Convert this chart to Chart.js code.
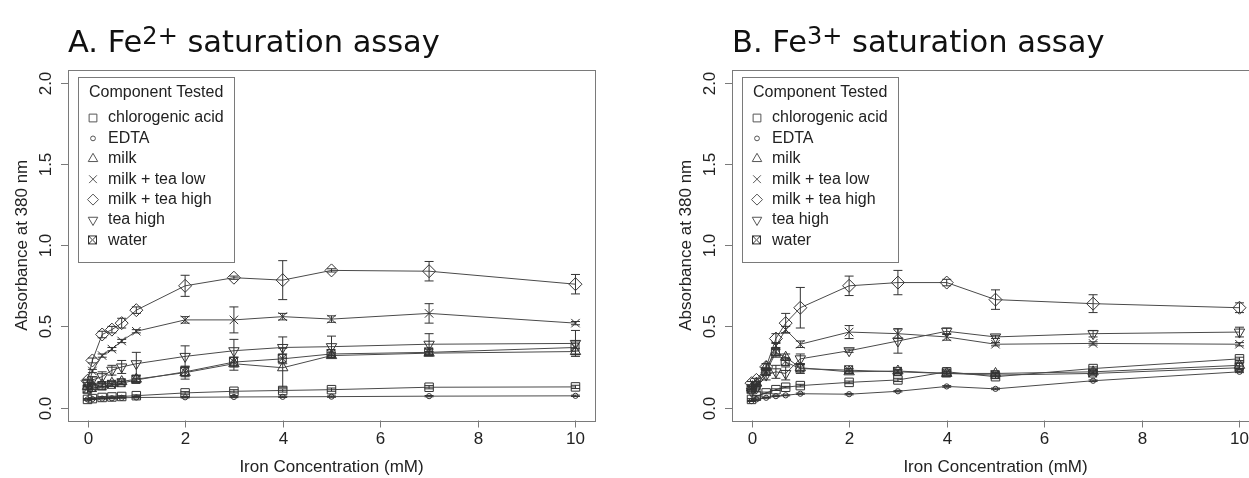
<!DOCTYPE html>
<html>
<head>
<meta charset="utf-8">
<title>Iron saturation assays</title>
<script src="https://cdn.jsdelivr.net/npm/chart.js@4.4.0/dist/chart.umd.min.js"></script>
<style>
  html, body { margin: 0; padding: 0; background: #fff; overflow: hidden; }
  #wrap { position: relative; width: 1249px; height: 478px; overflow: hidden; }
  canvas { position: absolute; top: 0; }
  #fe2 { left: 0; }
  #fe3 { left: 664px; }
</style>
</head>
<body>
<div id="wrap">
  <canvas id="fe2" width="620" height="478"></canvas>
  <canvas id="fe3" width="620" height="478"></canvas>
</div>
<script>
// iron added to each well (mM)
const concentrations = [0, 0.1, 0.3, 0.5, 0.7, 1, 2, 3, 4, 5, 7, 10];
const components = ["chlorogenic acid", "EDTA", "milk", "milk + tea low", "milk + tea high", "tea high", "water"];
const xTicks = [0, 2, 4, 6, 8, 10];
const yTicks = [0, 0.5, 1, 1.5, 2];
const yTickLabels = ["0.0", "0.5", "1.0", "1.5", "2.0"];

// Fe2+ mean absorbance
const fe2Chlorogenic = [0.05, 0.055, 0.062, 0.065, 0.068, 0.073, 0.09, 0.10, 0.105, 0.11, 0.125, 0.127];
const fe2Edta        = [0.05, 0.052, 0.055, 0.057, 0.06, 0.062, 0.063, 0.065, 0.066, 0.067, 0.07, 0.072];
const fe2Milk        = [0.13, 0.13, 0.14, 0.15, 0.16, 0.175, 0.215, 0.27, 0.245, 0.32, 0.335, 0.345];
const fe2MilkTeaLow  = [0.12, 0.225, 0.32, 0.36, 0.41, 0.47, 0.54, 0.54, 0.56, 0.545, 0.58, 0.52];
const fe2MilkTeaHigh = [0.165, 0.29, 0.45, 0.48, 0.52, 0.60, 0.75, 0.80, 0.785, 0.845, 0.84, 0.76];
const fe2TeaHigh     = [0.15, 0.17, 0.19, 0.23, 0.25, 0.27, 0.315, 0.35, 0.37, 0.375, 0.39, 0.395];
const fe2Water       = [0.11, 0.12, 0.13, 0.14, 0.15, 0.17, 0.22, 0.28, 0.30, 0.33, 0.34, 0.37];

// Fe2+ standard deviations
const fe2ChlorogenicSd = [0.005, 0.005, 0.005, 0.005, 0.005, 0.005, 0.008, 0.01, 0.01, 0.01, 0.01, 0.01];
const fe2EdtaSd        = [0.003, 0.003, 0.003, 0.003, 0.003, 0.003, 0.004, 0.004, 0.004, 0.004, 0.004, 0.004];
const fe2MilkSd        = [0.01, 0.01, 0.01, 0.01, 0.01, 0.02, 0.04, 0.04, 0.12, 0.01, 0.01, 0.02];
const fe2MilkTeaLowSd  = [0.01, 0.01, 0.01, 0.01, 0.01, 0.01, 0.02, 0.08, 0.02, 0.02, 0.06, 0.01];
const fe2MilkTeaHighSd = [0.01, 0.015, 0.02, 0.02, 0.03, 0.02, 0.065, 0.01, 0.12, 0.01, 0.06, 0.06];
const fe2TeaHighSd     = [0.02, 0.02, 0.03, 0.03, 0.04, 0.07, 0.065, 0.07, 0.065, 0.065, 0.065, 0.08];
const fe2WaterSd       = [0.02, 0.02, 0.02, 0.01, 0.01, 0.01, 0.03, 0.03, 0.03, 0.01, 0.02, 0.04];

// Fe3+ mean absorbance
const fe3Chlorogenic = [0.05, 0.07, 0.09, 0.11, 0.125, 0.135, 0.155, 0.17, 0.22, 0.19, 0.24, 0.30];
const fe3Edta        = [0.04, 0.05, 0.06, 0.07, 0.075, 0.085, 0.082, 0.10, 0.13, 0.115, 0.165, 0.22];
const fe3Milk        = [0.12, 0.15, 0.25, 0.34, 0.31, 0.245, 0.22, 0.225, 0.21, 0.21, 0.22, 0.26];
const fe3MilkTeaLow  = [0.12, 0.14, 0.22, 0.38, 0.48, 0.39, 0.465, 0.455, 0.435, 0.39, 0.395, 0.39];
const fe3MilkTeaHigh = [0.15, 0.17, 0.25, 0.425, 0.52, 0.615, 0.75, 0.77, 0.77, 0.665, 0.64, 0.615];
const fe3TeaHigh     = [0.10, 0.12, 0.20, 0.22, 0.21, 0.30, 0.35, 0.41, 0.47, 0.435, 0.455, 0.465];
const fe3Water       = [0.11, 0.13, 0.22, 0.34, 0.28, 0.24, 0.23, 0.22, 0.21, 0.20, 0.21, 0.245];

// Fe3+ standard deviations
const fe3ChlorogenicSd = [0.005, 0.005, 0.005, 0.005, 0.005, 0.008, 0.008, 0.01, 0.01, 0.01, 0.01, 0.01];
const fe3EdtaSd        = [0.003, 0.003, 0.003, 0.003, 0.003, 0.004, 0.004, 0.004, 0.005, 0.005, 0.005, 0.005];
const fe3MilkSd        = [0.01, 0.01, 0.02, 0.03, 0.02, 0.02, 0.01, 0.01, 0.01, 0.01, 0.01, 0.02];
const fe3MilkTeaLowSd  = [0.01, 0.01, 0.02, 0.02, 0.02, 0.02, 0.04, 0.03, 0.02, 0.01, 0.01, 0.01];
const fe3MilkTeaHighSd = [0.01, 0.01, 0.02, 0.03, 0.06, 0.125, 0.06, 0.075, 0.02, 0.06, 0.055, 0.03];
const fe3TeaHighSd     = [0.01, 0.02, 0.03, 0.04, 0.04, 0.03, 0.01, 0.075, 0.02, 0.01, 0.02, 0.03];
const fe3WaterSd       = [0.01, 0.01, 0.02, 0.02, 0.02, 0.03, 0.01, 0.01, 0.01, 0.01, 0.01, 0.01];

const LINE = "#4a4a4a";
const INK = "#333";
const FRAME = "#7a7a7a";
const SANS = '"Liberation Sans", Arial, sans-serif';

// square with a cross through it, used for water
function boxedCross() {
  const c = document.createElement("canvas");
  c.width = 12;
  c.height = 12;
  const g = c.getContext("2d");
  g.strokeStyle = INK;
  g.lineWidth = 1;
  g.strokeRect(1.5, 1.5, 8, 8);
  g.beginPath();
  g.moveTo(1.5, 1.5); g.lineTo(9.5, 9.5);
  g.moveTo(9.5, 1.5); g.lineTo(1.5, 9.5);
  g.stroke();
  return c;
}

const markerStyles = ["rect", "circle", "triangle", "crossRot", "rectRot", "triangle", boxedCross()];
const markerRotation = [0, 0, 0, 0, 0, 180, 0];
const markerRadius = [6, 2.6, 6, 6, 6.5, 6, 6];

// error bars with small caps, drawn from each dataset's sd array
const errorBars = {
  id: "errorBars",
  afterDatasetsDraw(chart) {
    const ctx = chart.ctx;
    const x = chart.scales.x;
    const y = chart.scales.y;
    ctx.save();
    ctx.strokeStyle = INK;
    ctx.lineWidth = 1;
    chart.data.datasets.forEach(ds => {
      ds.data.forEach((p, j) => {
        const sd = ds.sd[j];
        const px = x.getPixelForValue(p.x);
        const top = y.getPixelForValue(p.y + sd);
        const bot = y.getPixelForValue(p.y - sd);
        ctx.beginPath();
        ctx.moveTo(px, top); ctx.lineTo(px, bot);
        ctx.moveTo(px - 4.5, top); ctx.lineTo(px + 4.5, top);
        ctx.moveTo(px - 4.5, bot); ctx.lineTo(px + 4.5, bot);
        ctx.stroke();
      });
    });
    ctx.restore();
  }
};

// frame, axes, titles and the legend box
const decorations = {
  id: "decorations",
  afterDraw(chart) {
    const ctx = chart.ctx;
    const area = chart.chartArea;
    const x = chart.scales.x;
    const y = chart.scales.y;
    const opts = chart.options.plugins.decorations;
    ctx.save();

    ctx.strokeStyle = FRAME;
    ctx.lineWidth = 1;
    ctx.strokeRect(Math.round(area.left) + 0.5, Math.round(area.top) + 0.5,
      Math.round(area.right - area.left), Math.round(area.bottom - area.top));

    ctx.fillStyle = "#222";
    ctx.font = "17px " + SANS;
    ctx.textAlign = "center";
    ctx.textBaseline = "middle";
    xTicks.forEach(v => {
      const px = Math.round(x.getPixelForValue(v)) + 0.5;
      ctx.beginPath();
      ctx.moveTo(px, area.bottom); ctx.lineTo(px, area.bottom + 7);
      ctx.stroke();
      ctx.fillText(String(v), px, area.bottom + 19);
    });
    yTicks.forEach((v, i) => {
      const py = Math.round(y.getPixelForValue(v)) + 0.5;
      ctx.beginPath();
      ctx.moveTo(area.left, py); ctx.lineTo(area.left - 7, py);
      ctx.stroke();
      ctx.save();
      ctx.translate(area.left - 22, py);
      ctx.rotate(-Math.PI / 2);
      ctx.fillText(yTickLabels[i], 0, 0);
      ctx.restore();
    });

    ctx.font = "17px " + SANS;
    ctx.fillText("Iron Concentration (mM)", (area.left + area.right) / 2, 467);
    ctx.save();
    ctx.translate(22, (area.top + area.bottom) / 2);
    ctx.rotate(-Math.PI / 2);
    ctx.fillText("Absorbance at 380 nm", 0, 0);
    ctx.restore();

    // panel title with superscript charge
    ctx.fillStyle = "#111";
    ctx.textAlign = "left";
    ctx.textBaseline = "alphabetic";
    let tx = area.left;
    ctx.font = '30.5px "DejaVu Sans"';
    ctx.fillText(opts.prefix, tx, 52);
    tx += ctx.measureText(opts.prefix).width;
    ctx.font = '24px "DejaVu Sans"';
    ctx.fillText(opts.charge, tx, 44);
    tx += ctx.measureText(opts.charge).width;
    ctx.font = '30.5px "DejaVu Sans"';
    ctx.fillText(" saturation assay", tx, 52);

    // legend
    const lx = area.left + 10;
    const ly = 77;
    const rowH = 20.4;
    ctx.font = "16px " + SANS;
    const textW = Math.max(...components.map(c => ctx.measureText(c).width),
      ctx.measureText("Component Tested").width - 15);
    const lw = Math.round(30 + textW + 7);
    const lh = Math.round(40 + rowH * components.length + 2);
    ctx.strokeStyle = FRAME;
    ctx.strokeRect(Math.round(lx) + 0.5, ly + 0.5, lw, lh);
    ctx.fillStyle = "#222";
    ctx.textBaseline = "middle";
    ctx.fillText("Component Tested", lx + 11, ly + 16);
    components.forEach((name, i) => {
      const cy = ly + 41 + i * rowH;
      ctx.fillStyle = "#222";
      ctx.fillText(name, lx + 30, cy);
      ctx.strokeStyle = "#555";
      ctx.fillStyle = "rgba(0,0,0,0)";
      ctx.lineWidth = 1;
      Chart.helpers.drawPoint(ctx, {
        pointStyle: markerStyles[i],
        rotation: markerRotation[i],
        radius: i === 1 ? 2.4 : 5.5,
        borderWidth: 1
      }, lx + 15, cy);
    });

    ctx.restore();
  }
};

function buildChart(canvasId, prefix, charge, means, sds) {
  const datasets = components.map((name, i) => ({
    label: name,
    data: concentrations.map((c, j) => ({ x: c, y: means[i][j] })),
    sd: sds[i],
    borderColor: LINE,
    borderWidth: 1,
    pointStyle: markerStyles[i],
    pointRotation: markerRotation[i],
    pointRadius: markerRadius[i],
    pointBorderColor: INK,
    pointBackgroundColor: "rgba(0,0,0,0)",
    pointBorderWidth: 1,
    tension: 0,
    fill: false
  }));

  return new Chart(document.getElementById(canvasId), {
    type: "line",
    data: { datasets },
    options: {
      responsive: false,
      animation: false,
      events: [],
      layout: { padding: { left: 68, right: 25, top: 70, bottom: 57.5 } },
      scales: {
        x: { type: "linear", min: -0.4, max: 10.4, display: false },
        y: { type: "linear", min: -0.08, max: 2.08, display: false }
      },
      plugins: {
        legend: { display: false },
        tooltip: { enabled: false },
        decorations: { prefix, charge }
      }
    },
    plugins: [errorBars, decorations]
  });
}

buildChart("fe2", "A. Fe", "2+",
  [fe2Chlorogenic, fe2Edta, fe2Milk, fe2MilkTeaLow, fe2MilkTeaHigh, fe2TeaHigh, fe2Water],
  [fe2ChlorogenicSd, fe2EdtaSd, fe2MilkSd, fe2MilkTeaLowSd, fe2MilkTeaHighSd, fe2TeaHighSd, fe2WaterSd]);

buildChart("fe3", "B. Fe", "3+",
  [fe3Chlorogenic, fe3Edta, fe3Milk, fe3MilkTeaLow, fe3MilkTeaHigh, fe3TeaHigh, fe3Water],
  [fe3ChlorogenicSd, fe3EdtaSd, fe3MilkSd, fe3MilkTeaLowSd, fe3MilkTeaHighSd, fe3TeaHighSd, fe3WaterSd]);
</script>
</body>
</html>
